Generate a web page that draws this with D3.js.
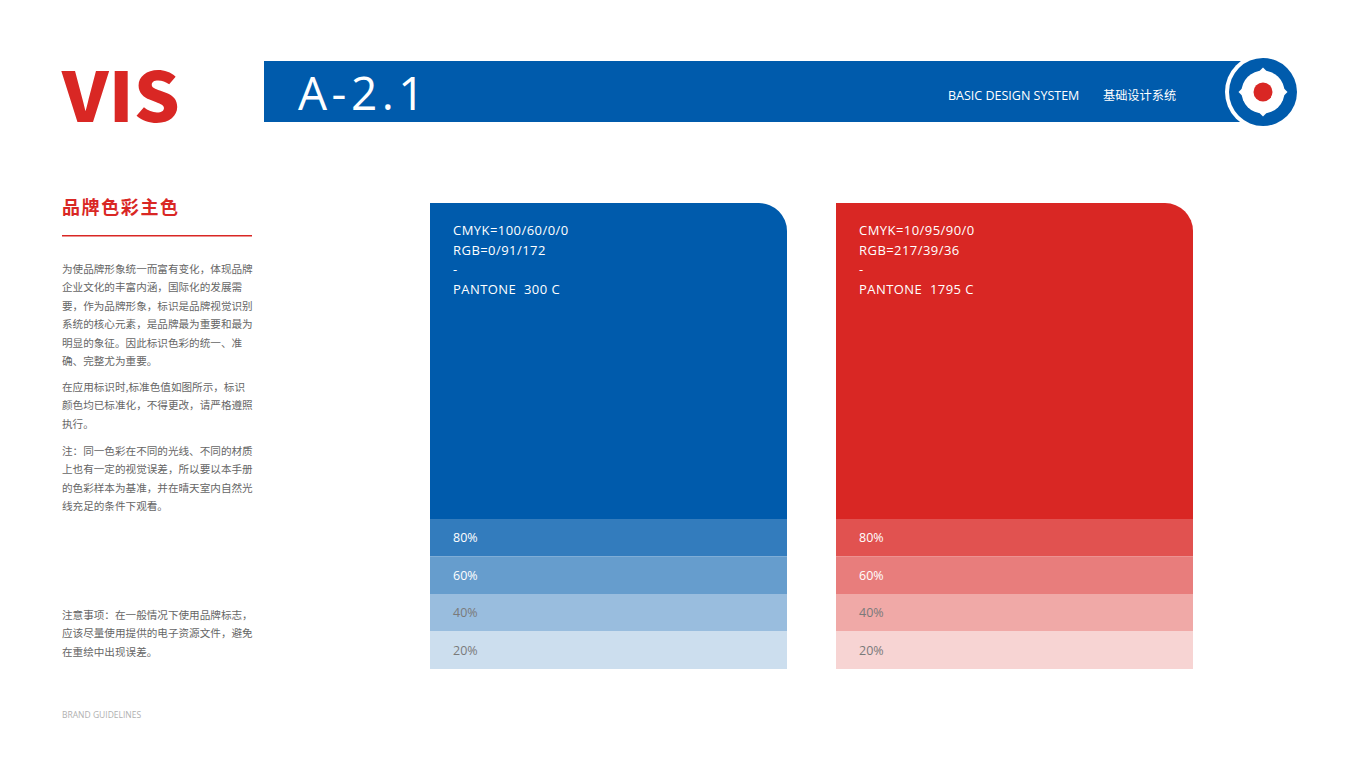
<!DOCTYPE html>
<html><head><meta charset="utf-8">
<script src="https://cdn.jsdelivr.net/npm/d3@7/dist/d3.min.js"></script>
<style>
html,body{margin:0;padding:0;background:#fff;}
svg{display:block;}
text{white-space:pre;}
</style></head>
<body>
<svg id="c" width="1366" height="768"></svg>
<script>
// ---- data ----
const swatchNames = ["blue", "red"];
const swatchColors = ["#005bac", "#d92724"];
const swatchSpecs = [
  ["CMYK=100/60/0/0", "RGB=0/91/172", "-", "PANTONE  300 C"],
  ["CMYK=10/95/90/0", "RGB=217/39/36", "-", "PANTONE  1795 C"]
];
const tintLevels = [80, 60, 40, 20];
const tintLabels = ["80%", "60%", "40%", "20%"];
const pageCode = "A-2.1";
const headerEn = "BASIC DESIGN SYSTEM";
const headerZh = "基础设计系统";
const sectionTitle = "品牌色彩主色";
const bodyParas = [
  ["为使品牌形象统一而富有变化，体现品牌", "企业文化的丰富内涵，国际化的发展需", "要，作为品牌形象，标识是品牌视觉识别", "系统的核心元素，是品牌最为重要和最为", "明显的象征。因此标识色彩的统一、准", "确、完整尤为重要。"],
  ["在应用标识时,标准色值如图所示，标识", "颜色均已标准化，不得更改，请严格遵照", "执行。"],
  ["注：同一色彩在不同的光线、不同的材质", "上也有一定的视觉误差，所以要以本手册", "的色彩样本为基准，并在晴天室内自然光", "线充足的条件下观看。"]
];
const noteLines = ["注意事项：在一般情况下使用品牌标志，", "应该尽量使用提供的电子资源文件，避免", "在重绘中出现误差。"];
const footer = "BRAND GUIDELINES";

// ---- drawing ----
const svg = d3.select("#c");
const CJK = "'Noto Sans CJK SC','Noto Sans',sans-serif";
const LAT = "'Open Sans','Noto Sans',sans-serif";

// header
svg.append("text").attr("x", 62).attr("y", 122).text("VIS")
  .attr("font-family", CJK).attr("font-weight", 900).attr("font-size", 68)
  .attr("textLength", 118).attr("lengthAdjust", "spacingAndGlyphs")
  .attr("fill", "#d92724");
svg.append("rect").attr("x", 264).attr("y", 61).attr("width", 990).attr("height", 61).attr("fill", "#005bac");
svg.append("text").attr("x", 298).attr("y", 110).text(pageCode)
  .attr("font-family", LAT).attr("font-size", 46).attr("fill", "#fff").attr("letter-spacing", 4.5);
svg.append("text").attr("x", 948).attr("y", 99.5).text(headerEn)
  .attr("font-family", LAT).attr("font-size", 12.5).attr("fill", "#fff");
svg.append("text").attr("x", 1103).attr("y", 100).text(headerZh)
  .attr("font-family", CJK).attr("font-size", 12.2).attr("fill", "#fff");
// logo
const lg = svg.append("g").attr("transform", "translate(1263,92)");
lg.append("circle").attr("r", 38).attr("fill", "#fff");
lg.append("circle").attr("r", 34).attr("fill", "#005bac");
lg.append("circle").attr("r", 21.5).attr("fill", "#fff");
[0, 90, 180, 270].forEach(a => {
  lg.append("path").attr("d", "M-4,-20.5 L0,-24.5 L4,-20.5 Z").attr("fill", "#fff").attr("transform", `rotate(${a})`);
});
lg.append("circle").attr("r", 9.5).attr("fill", "#d92724");

// left column
svg.append("text").attr("x", 62).attr("y", 214).text(sectionTitle)
  .attr("font-family", CJK).attr("font-weight", 700).attr("font-size", 18).attr("fill", "#d92724").attr("letter-spacing", 1.6);
svg.append("rect").attr("x", 62).attr("y", 235).attr("width", 190).attr("height", 1.5).attr("fill", "#d92724");

const paraTop = [269, 387, 451];
const lineH = 18.4;
bodyParas.forEach((lines, pi) => {
  svg.append("g").selectAll("text").data(lines).join("text")
    .attr("x", 62).attr("y", (d, i) => paraTop[pi] + i * lineH + 4)
    .text(d => d)
    .attr("font-family", CJK).attr("font-size", 10.6).attr("fill", "#666");
});
svg.append("g").selectAll("text").data(noteLines).join("text")
  .attr("x", 62).attr("y", (d, i) => 615 + i * lineH + 4)
  .text(d => d)
  .attr("font-family", CJK).attr("font-size", 10.6).attr("fill", "#666");
svg.append("text").attr("x", 62).attr("y", 718).text(footer)
  .attr("font-family", LAT).attr("font-size", 8.5).attr("fill", "#b0b0b0");

// swatches
const x = d3.scaleBand().domain(swatchNames).range([430, 1193]).paddingInner(0.1207).paddingOuter(0);
const yMainTop = 203, yMainBottom = 519, yEnd = 669;
const yTint = d3.scaleBand().domain(tintLevels).range([yMainBottom, yEnd]).padding(0);
const r = 28;

swatchNames.forEach((name, si) => {
  const x0 = x(name), w = x.bandwidth();
  const g = svg.append("g");
  const p = d3.path();
  p.moveTo(x0, yMainTop);
  p.lineTo(x0 + w - r, yMainTop);
  p.arcTo(x0 + w, yMainTop, x0 + w, yMainTop + r, r);
  p.lineTo(x0 + w, yMainBottom + 1);
  p.lineTo(x0, yMainBottom + 1);
  p.closePath();
  g.append("path").attr("d", p.toString()).attr("fill", swatchColors[si]);
  g.append("g").selectAll("text").data(swatchSpecs[si]).join("text")
    .attr("x", x0 + 23).attr("y", (d, i) => 235 + i * 19.7)
    .text(d => d)
    .attr("font-family", LAT).attr("font-size", 13).attr("letter-spacing", 0.45).attr("fill", "#fff");
  const mix = d3.interpolateRgb("#ffffff", swatchColors[si]);
  g.append("g").selectAll("rect").data(tintLevels).join("rect")
    .attr("x", x0).attr("y", d => yTint(d)).attr("width", w).attr("height", yTint.bandwidth())
    .attr("fill", d => mix(d / 100));
  g.append("g").selectAll("text").data(tintLevels).join("text")
    .attr("x", x0 + 23).attr("y", d => yTint(d) + yTint.bandwidth() / 2 + 4.5)
    .text((d, i) => tintLabels[i])
    .attr("font-family", LAT).attr("font-size", 12.5)
    .attr("fill", d => d >= 60 ? "#fff" : "#7a7a7a");
});
</script>
</body></html>
